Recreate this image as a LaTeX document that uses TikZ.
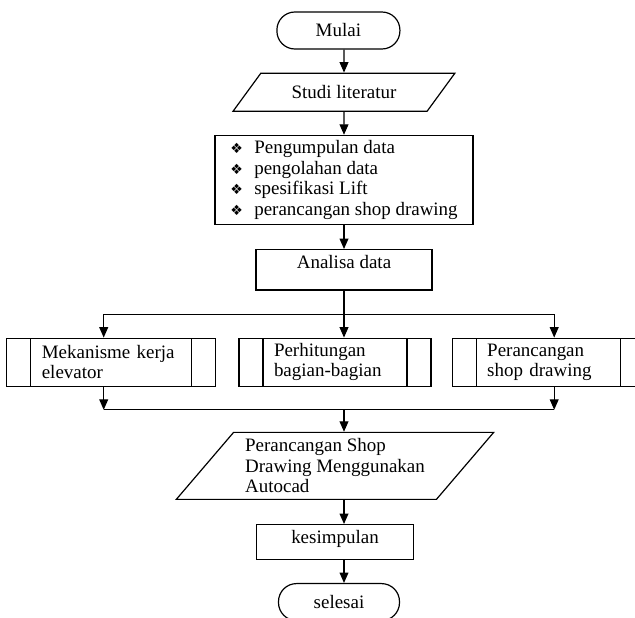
\documentclass[tikz,border=0pt]{standalone}
\usepackage{fontspec}
\setmainfont{Liberation Serif}
\newfontfamily\symfont{DejaVu Sans}
\usetikzlibrary{shapes.geometric, arrows.meta, positioning, calc}
\tikzset{
  terminal/.style = {rectangle, draw, rounded corners=0.45cm,
    minimum height=0.925cm},
  iobox/.style = {trapezium, draw, trapezium stretches=true},
  process/.style = {rectangle, draw},
  subproc/.style = {rectangle, draw, align=left, inner xsep=0.875cm,
    minimum height=1.2cm,
    path picture={
      \draw ([xshift=0.6cm]path picture bounding box.north west) -- ([xshift=0.6cm]path picture bounding box.south west);
      \draw ([xshift=-0.6cm]path picture bounding box.north east) -- ([xshift=-0.6cm]path picture bounding box.south east);
    }},
  arrow/.style = {->, >={Triangle[length=2.6mm, width=2.2mm]}},
  line/.style  = {-},
}
\newcommand{\bul}{\makebox[0.6cm][l]{\symfont\fontsize{10}{10}\selectfont ❖}}

\begin{document}
\begin{tikzpicture}[node distance=0.6cm and 0.55cm, line width=0.85pt,
  font=\fontsize{13.5}{14.6}\selectfont]

  \useasboundingbox (0,0) rectangle (15.875,-15.45);

  % Main column
  \node[terminal, minimum width=3.075cm] (mulai) at (8.46,-0.7625) {Mulai};
  \node[iobox, trapezium left angle=50, trapezium right angle=130,
    minimum width=5.55cm, minimum height=0.95cm,
    below=0.575cm of mulai, xshift=0.14cm] (studi) {Studi literatur};
  \node[process, align=left, minimum width=6.45cm, minimum height=2.225cm,
    below=0.575cm of studi] (data)
    {\bul Pengumpulan data\\ \bul pengolahan data\\
     \bul spesifikasi Lift\\ \bul perancangan shop drawing};
  \node[process, minimum width=4.4cm, inner ysep=0pt,
    text height=0.47cm, text depth=0.54cm,
    below=0.6cm of data] (ana) {Analisa data};

  % Sub processes
  \node[subproc, text width=3.05cm, below=1.175cm of ana, xshift=-0.225cm] (b2)
    {Perhitungan\\ bagian-bagian};
  \node[subproc, text width=3.475cm, left=of b2] (b1)
    {Mekanisme kerja\\ elevator};
  \node[subproc, text width=3.05cm, right=0.5cm of b2] (b3)
    {Perancangan\\ shop drawing};

  % Lower column
  \node[iobox, trapezium left angle=47, trapezium right angle=133,
    minimum width=7.95cm, minimum height=1.675cm, inner sep=0pt, align=left,
    below=1.125cm of b2] (para)
    {Perancangan Shop\\ Drawing Menggunakan\\ Autocad};
  \node[process, minimum width=3.925cm, inner ysep=0pt,
    text height=0.47cm, text depth=0.4cm,
    below=of para] (kes) {kesimpulan};
  \node[terminal, minimum width=3.025cm, below=0.575cm of kes, xshift=0.1cm] (sel) {selesai};

  % Main arrows
  \draw[arrow] (studi.north |- mulai.south) -- (studi);
  \draw[arrow] (studi) -- (data);
  \draw[arrow] (data) -- (ana);

  % Split
  \coordinate[below=0.6cm of ana.south] (split);
  \coordinate (in1) at ([xshift=-0.19cm]b1.north);
  \coordinate (in3) at ([xshift=0.15cm]b3.north);
  \draw[line] (ana) -- (split);
  \draw[arrow] (split) -- (split |- b2.north);
  \draw[arrow] (split) -| (in1);
  \draw[arrow] (split) -| (in3);

  % Merge
  \coordinate (merge) at ($(b2.south -| split)+(0,-0.575)$);
  \coordinate (out1) at ([xshift=-0.19cm]b1.south);
  \coordinate (out3) at ([xshift=0.15cm]b3.south);
  \draw[arrow] (out1) -- (out1 |- merge);
  \draw[arrow] (out3) -- (out3 |- merge);
  \draw[line] (out1 |- merge) -- (out3 |- merge);
  \draw[arrow] (merge) -- (merge |- para.north);

  % Lower arrows
  \draw[arrow] (para.south -| merge) -- (kes.north -| merge);
  \draw[arrow] (kes.south -| merge) -- (sel.north -| merge);

\end{tikzpicture}
\end{document}
